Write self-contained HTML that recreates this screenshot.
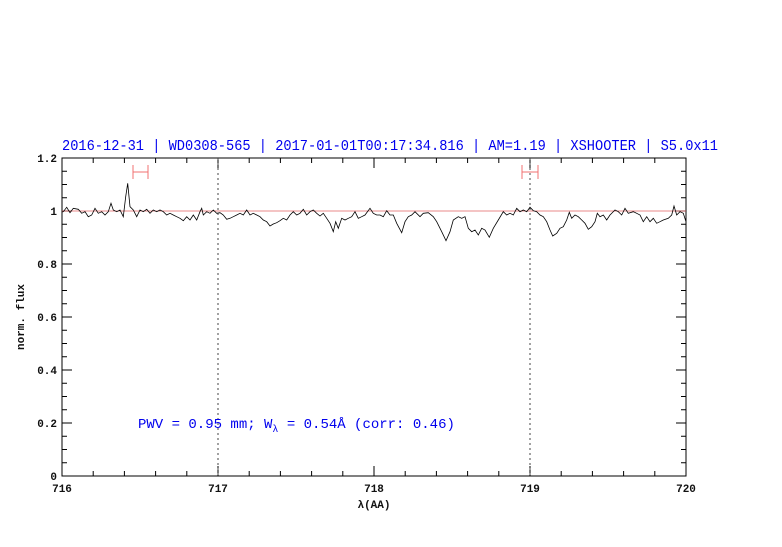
<!DOCTYPE html>
<html><head><meta charset="utf-8"><style>
body{margin:0;background:#fff;width:782px;height:542px;overflow:hidden}
svg text{font-family:"Liberation Mono",monospace}
</style></head><body>
<svg id="s" width="782" height="542" xmlns="http://www.w3.org/2000/svg">
<text x="62" y="150" fill="#0000ee" font-size="14.5" textLength="656" lengthAdjust="spacingAndGlyphs">2016-12-31 | WD0308-565 | 2017-01-01T00:17:34.816 | AM=1.19 | XSHOOTER | S5.0x11</text>
<rect x="62" y="158" width="624" height="318" fill="none" stroke="#000" stroke-width="1"/>
<g id="ticks" stroke="#000" stroke-width="1"></g>
<line x1="62" y1="211" x2="686" y2="211" stroke="#e06060" stroke-width="0.7"/>
<line x1="218" y1="158" x2="218" y2="476" stroke="#444" stroke-dasharray="2,3"/>
<line x1="530" y1="158" x2="530" y2="476" stroke="#444" stroke-dasharray="2,3"/>
<g stroke="#f07070" stroke-width="1">
<line x1="133" y1="172" x2="148" y2="172"/><line x1="133" y1="165" x2="133" y2="179"/><line x1="148" y1="165" x2="148" y2="179"/>
<line x1="522" y1="172" x2="538" y2="172"/><line x1="522" y1="165" x2="522" y2="179"/><line x1="538" y1="165" x2="538" y2="179"/>
</g>
<polyline id="sp" fill="none" stroke="#000" stroke-width="0.8"/>
<g font-size="11" font-family="Liberation Sans" text-anchor="end" font-weight="bold" fill="#111">
<text x="57" y="480">0</text><text x="57" y="427">0.2</text><text x="57" y="374">0.4</text><text x="57" y="321">0.6</text><text x="57" y="268">0.8</text><text x="57" y="215">1</text><text x="57" y="162">1.2</text>
</g>
<g font-size="11" font-family="Liberation Sans" text-anchor="middle" font-weight="bold" fill="#111">
<text x="62" y="492">716</text><text x="218" y="492">717</text><text x="374" y="492">718</text><text x="530" y="492">719</text><text x="686" y="492">720</text>
</g>
<text x="374" y="508" font-size="11" text-anchor="middle" font-family="Liberation Sans" font-weight="bold" fill="#111">λ(AA)</text>
<text transform="translate(24,317) rotate(-90)" font-size="11" text-anchor="middle" font-family="Liberation Sans" font-weight="bold" fill="#111">norm. flux</text>
<text x="138" y="428" fill="#0000ee" font-size="14">PWV = 0.95 mm; W<tspan font-size="10" dy="4">λ</tspan><tspan dy="-4"> = 0.54Å (corr: 0.46)</tspan></text>
</svg>
<script>
var t=document.getElementById('ticks'),h='';
for(var i=0;i<=20;i++){var x=62+i*31.2,L=(i%5==0)?10:5;h+='<line x1="'+x+'" y1="476" x2="'+x+'" y2="'+(476-L)+'"/><line x1="'+x+'" y1="158" x2="'+x+'" y2="'+(158+L)+'"/>';}
for(var j=0;j<=24;j++){var y=476-j*13.25,L=(j%4==0)?10:5;h+='<line x1="62" y1="'+y+'" x2="'+(62+L)+'" y2="'+y+'"/><line x1="686" y1="'+y+'" x2="'+(686-L)+'" y2="'+y+'"/>';}
t.innerHTML=h;
var a=[[25,185],[35,172],[45,188],[55,175],[70,178],[80,190],[90,185],[100,200],[110,195],[120,175],[130,190],[140,185],[150,195],[160,185],[168,160],[175,180],[185,185],[195,180],[205,200],[212,140],[218,100],[225,170],[235,180],[245,200],[255,180],[265,185],[275,178],[285,190],[295,180],[305,185],[315,180],[325,185],[335,195],[345,190],[355,195],[365,200],[375,205],[385,212],[395,200],[405,210],[415,195],[425,210],[435,185],[440,175],[445,195],[455,185],[465,190],[475,180],[485,190],[495,188],[505,195],[515,208],[525,205],[535,200],[545,195],[555,190],[565,195],[575,180],[585,195],[595,190],[605,195],[615,200],[625,210],[635,215],[645,228],[655,222],[665,218],[675,212],[685,205],[695,210],[705,195],[715,185],[725,195],[735,190],[745,178],[755,195],[765,185],[775,180],[785,190],[795,198],[805,190],[815,205],[825,220],[835,245],[842,215],[850,235],[860,205],[870,210],[880,205],[890,200],[900,185],[910,205],[920,200],[930,195]];
var b=[[0,175],[10,190],[20,195],[30,195],[40,200],[50,182],[60,195],[70,195],[80,220],[95,248],[105,215],[115,200],[125,195],[135,185],[150,200],[160,190],[175,188],[190,200],[200,215],[215,245],[228,272],[240,245],[250,210],[265,200],[275,205],[285,200],[295,235],[305,245],[315,240],[325,255],[335,235],[345,240],[358,262],[370,235],[385,210],[400,185],[410,195],[420,190],[430,195],[440,175],[450,185],[460,180],[470,185],[480,172],[490,182],[500,185],[510,195],[520,200],[530,215],[540,240],[548,258],[560,250],[570,235],[580,230],[590,210],[598,187],[605,205],[615,195],[625,200],[635,210],[645,220],[655,238],[665,230],[675,215],[682,190],[690,200],[700,195],[710,210],[720,195],[735,180],[745,185],[755,195],[765,175],[775,190],[790,185],[800,190],[810,195],[820,215],[830,200],[840,215],[850,205],[860,220],[870,215],[880,210],[895,205],[905,195],[912,168],[920,195],[930,185],[940,190],[948,215]];
var p=[[62,212]];a.forEach(function(q){p.push([55+q[0]/3,150+q[1]/3])});b.forEach(function(q){p.push([370+q[0]/3,150+q[1]/3])});
document.getElementById('sp').setAttribute('points',p.map(function(q){return q[0].toFixed(1)+','+q[1].toFixed(1)}).join(' '));
</script>
</body></html>
